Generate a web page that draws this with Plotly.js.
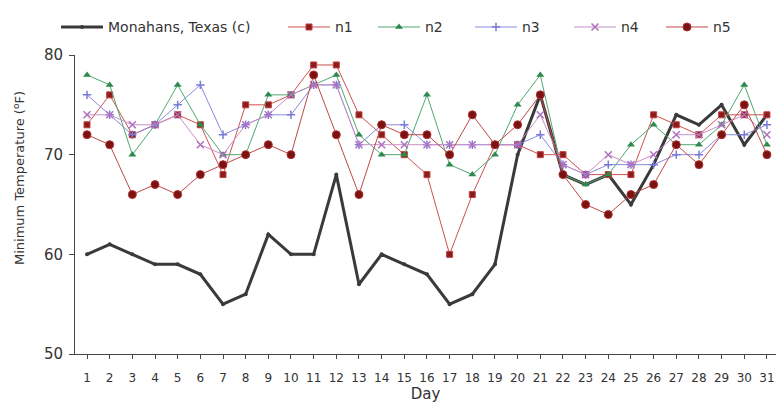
<!DOCTYPE html>
<html>
<head>
<meta charset="utf-8">
<script src="https://cdn.plot.ly/plotly-3.0.1.min.js"></script>
<style>html,body{margin:0;padding:0;background:#fff;}#chart{width:776px;height:407px;}</style>
</head>
<body>
<div id="chart"></div>
<script>
var days = [1,2,3,4,5,6,7,8,9,10,11,12,13,14,15,16,17,18,19,20,21,22,23,24,25,26,27,28,29,30,31];
var dayLabels = days.map(String);
var monahans = [60,61,60,59,59,58,55,56,62,60,60,68,57,60,59,58,55,56,59,70,76,68,67,68,65,69,74,73,75,71,74];
var n1 = [73,76,72,73,74,73,68,75,75,76,79,79,74,72,70,68,60,66,71,71,70,70,68,68,68,74,73,72,74,74,74];
var n2 = [78,77,70,73,77,73,70,70,76,76,77,78,72,70,70,76,69,68,70,75,78,68,67,68,71,73,71,71,73,77,71];
var n3 = [76,74,72,73,75,77,72,73,74,74,77,77,71,73,73,71,71,71,71,71,72,69,68,69,69,69,70,70,72,72,73];
var n4 = [74,74,73,73,74,71,70,73,74,76,77,77,71,71,71,71,71,71,71,71,74,69,68,70,69,70,72,72,73,74,72];
var n5 = [72,71,66,67,66,68,69,70,71,70,78,72,66,73,72,72,70,74,71,73,76,68,65,64,66,67,71,69,72,75,70];
var seriesNames = ['Monahans, Texas (c)', 'n1', 'n2', 'n3', 'n4', 'n5'];
var yTicks = [50, 60, 70, 80];

var FONT = 'DejaVu Sans, Verdana, sans-serif';

var traces = [
  {x: days, y: monahans, name: seriesNames[0], legend: 'legend', mode: 'lines+markers',
   line: {color: '#3a3a3a', width: 3}, marker: {color: '#3a3a3a', size: 4, symbol: 'circle'}},
  {x: days, y: n1, name: seriesNames[1], legend: 'legend2', mode: 'lines+markers',
   line: {color: '#d05050', width: 1}, marker: {color: '#8b1c1c', size: 6, symbol: 'square', line:{color:'#c04040', width:1}}},
  {x: days, y: n2, name: seriesNames[2], legend: 'legend3', mode: 'lines+markers',
   line: {color: '#50a870', width: 1}, marker: {color: '#2e8a4e', size: 7, symbol: 'triangle-up'}},
  {x: days, y: n3, name: seriesNames[3], legend: 'legend4', mode: 'lines+markers',
   line: {color: '#8a8ae0', width: 1}, marker: {color: '#7a7ad8', size: 6, symbol: 'cross-thin', line:{color:'#7a7ad8', width:1.5}}},
  {x: days, y: n4, name: seriesNames[4], legend: 'legend5', mode: 'lines+markers',
   line: {color: '#c890c8', width: 1}, marker: {color: '#b070c0', size: 7, symbol: 'x-thin', line:{color:'#b070c0', width:1.5}}},
  {x: days, y: n5, name: seriesNames[5], legend: 'legend6', mode: 'lines+markers',
   line: {color: '#c04848', width: 1}, marker: {color: '#7a1212', size: 8, symbol: 'circle', line:{color:'#b03030', width:1}}}
];

function leg(px) {
  return {orientation: 'h', x: px / 776, xanchor: 'left', xref: 'container',
          y: 0.972, yanchor: 'top', yref: 'container', itemwidth: 42,
          bgcolor: 'rgba(0,0,0,0)', font: {family: FONT, size: 14, color: '#333'}};
}

var layout = {
  width: 776, height: 407,
  margin: {l: 75, r: 0, t: 55, b: 53},
  paper_bgcolor: '#fff', plot_bgcolor: '#fff',
  font: {family: FONT, color: '#333', size: 12},
  showlegend: true,
  legend: leg(56), legend2: leg(283), legend3: leg(373), legend4: leg(470), legend5: leg(569), legend6: leg(661),
  xaxis: {range: [0.47, 31.4], tickmode: 'array', tickvals: days, ticktext: dayLabels,
          showgrid: false, zeroline: false, showline: true, linecolor: '#444', linewidth: 1,
          ticks: 'outside', ticklen: 4, tickcolor: '#444', tickfont: {size: 12, color: '#333'},
          ticklabelstandoff: 9,
          title: {text: 'Day', font: {size: 15, color: '#333'}, standoff: 2}},
  yaxis: {range: [50, 80], tickvals: yTicks, ticktext: yTicks.map(String),
          showgrid: false, zeroline: false, showline: true, linecolor: '#444', linewidth: 1,
          ticks: 'outside', ticklen: 5, tickcolor: '#444', tickfont: {size: 15, color: '#333'},
          ticklabelstandoff: 3},
  annotations: [{text: 'Minimum Temperature (<sup>o</sup>F)', xref: 'paper', yref: 'paper',
                 x: (19 - 75) / 701, y: (354 - 178) / 299, xanchor: 'center', yanchor: 'middle',
                 textangle: -90, showarrow: false, font: {family: FONT, size: 13, color: '#333'}}]
};

Plotly.newPlot('chart', traces, layout, {displayModeBar: false, staticPlot: true});
</script>
</body>
</html>
